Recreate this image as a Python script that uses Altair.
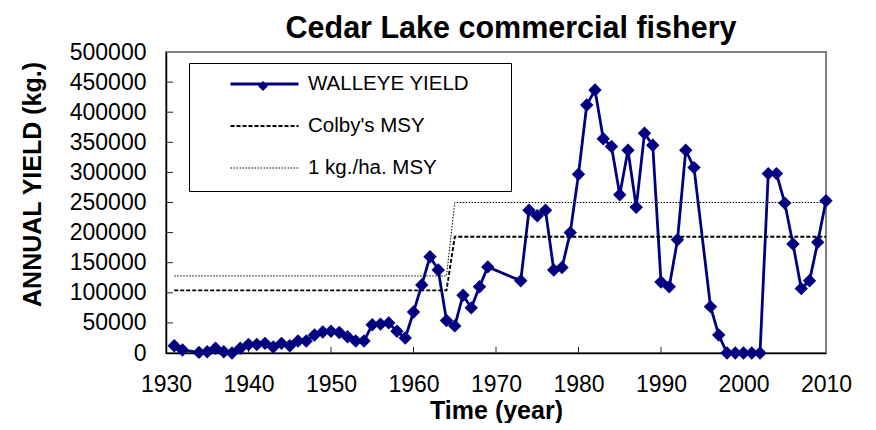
import altair as alt
import pandas as pd

# ---- data ----
years = [1931, 1932,
         1934, 1935, 1936, 1937, 1938, 1939,
         1940, 1941, 1942, 1943, 1944, 1945, 1946, 1947, 1948, 1949,
         1950, 1951, 1952, 1953, 1954, 1955, 1956, 1957, 1958, 1959,
         1960, 1961, 1962, 1963, 1964, 1965, 1966, 1967, 1968, 1969,
         1973, 1974, 1975, 1976, 1977, 1978, 1979,
         1980, 1981, 1982, 1983, 1984, 1985, 1986, 1987, 1988, 1989,
         1990, 1991, 1992, 1993, 1994,
         1996, 1997, 1998, 1999, 2000, 2001, 2002,
         2003, 2004, 2005, 2006, 2007, 2008, 2009, 2010]
walleye = [12000, 5000,
           1000, 2000, 8000, 2000, 0, 8000,
           14000, 14000, 16000, 10000, 16000, 12000, 20000, 20000, 30000, 35000,
           36000, 34000, 27000, 20000, 20000, 47000, 48000, 50000, 36000, 25000,
           68000, 113000, 160000, 138000, 54000, 45000, 96000, 75000, 110000, 143000,
           120000, 237000, 228000, 237000, 138000, 142000, 200000,
           297000, 412000, 437000, 356000, 343000, 263000, 337000, 242000, 365000, 345000,
           118000, 110000, 188000, 337000, 308000,
           77000, 30000, 0, 0, 0, 0, 0,
           298000, 298000, 249000, 181000, 107000, 120000, 184000, 253000]

msy_years = [1931, 1964, 1965, 2010]
colby_msy = [104000, 104000, 193000, 193000]
kgha_msy = [128000, 128000, 250000, 250000]

series_names = ["WALLEYE YIELD", "Colby's MSY", "1 kg./ha. MSY"]
x_ticks = [1930, 1940, 1950, 1960, 1970, 1980, 1990, 2000, 2010]
y_ticks = [0, 50000, 100000, 150000, 200000, 250000, 300000, 350000, 400000, 450000, 500000]

# ---- tables ----
rows = [{"year": yr, "value": v, "series": series_names[0]} for yr, v in zip(years, walleye)]
rows += [{"year": yr, "value": v, "series": series_names[1]} for yr, v in zip(msy_years, colby_msy)]
rows += [{"year": yr, "value": v, "series": series_names[2]} for yr, v in zip(msy_years, kgha_msy)]
df = pd.DataFrame(rows)
pts = pd.DataFrame({"year": years, "value": walleye, "mk": series_names[0]})
xt = pd.DataFrame({"year": x_ticks[1:-1]})
yt = pd.DataFrame({"value": y_ticks[1:-1]})

FONT = "Liberation Sans"
W, H = 660, 301

x_enc = alt.X("year:Q",
              scale=alt.Scale(domain=[1930, 2010], nice=False, zero=False),
              axis=alt.Axis(values=x_ticks, format="d", title="Time (year)",
                            ticks=False, labelPadding=20, labelFlush=False,
                            labelOverlap=False, grid=False,
                            titleY=57, titleBaseline="middle"))
y_enc = alt.Y("value:Q",
              scale=alt.Scale(domain=[0, 500000], nice=False),
              axis=alt.Axis(values=y_ticks, format="d", title="ANNUAL YIELD (kg.)",
                            ticks=False, labelPadding=20, labelOverlap=False,
                            labelFlush=False, grid=False,
                            titleX=-134, titleY=132, titleBaseline="middle",
                            titleAlign="center"))

legend_main = alt.Legend(orient="none", legendX=23, legendY=11,
                         title=".", titleOrient="right", titleOpacity=0,
                         titleFontSize=20, titlePadding=24,
                         padding=12, symbolOffset=28, labelOffset=8,
                         rowPadding=21, clipHeight=18, symbolSize=4624,
                         symbolType="stroke", labelFont=FONT, labelFontSize=20.5,
                         labelColor="black", labelLimit=400,
                         strokeColor="black", fillColor="white", zindex=1)

lines = alt.Chart(df).mark_line().encode(
    x=x_enc, y=y_enc,
    color=alt.Color("series:N", scale=alt.Scale(domain=series_names,
                                                range=["#000080", "#000000", "#000000"]),
                    legend=legend_main),
    strokeDash=alt.StrokeDash("series:N", scale=alt.Scale(domain=series_names,
                                                          range=[[1, 0], [4, 2], [1.5, 1.5]]),
                              legend=legend_main),
    strokeWidth=alt.StrokeWidth("series:N", scale=alt.Scale(domain=series_names,
                                                            range=[2.8, 1, 1.2]),
                                legend=legend_main),
)

points = alt.Chart(pts).mark_point(filled=True, size=180, color="#000080", opacity=1).encode(
    x=x_enc, y=y_enc,
    shape=alt.Shape("mk:N", scale=alt.Scale(domain=[series_names[0]], range=["diamond"]),
                    legend=alt.Legend(orient="none", legendX=92, legendY=29, title=None,
                                      padding=0, labelExpr="''", labelOffset=0,
                                      symbolSize=100, symbolType="diamond",
                                      symbolFillColor="#000080", symbolStrokeColor="#000080",
                                      symbolStrokeWidth=0, zindex=2)),
)

xticks = alt.Chart(xt).mark_rule(color="#222", strokeWidth=1).encode(
    x=x_enc, y=alt.value(H), y2=alt.value(H - 6))
yticks = alt.Chart(yt).mark_rule(color="#222", strokeWidth=1).encode(
    y=y_enc, x=alt.value(0), x2=alt.value(7))

chart = alt.layer(xticks, yticks, lines, points).properties(
    width=W, height=H,
    title=alt.Title("Cedar Lake commercial fishery", font=FONT, fontSize=30.5,
                    fontWeight="bold", color="black", anchor="middle",
                    frame="group", dx=15, offset=-3),
    autosize=alt.AutoSizeParams(type="none"),
    padding={"left": 158, "top": 44, "right": 40, "bottom": 70},
).configure_view(
    stroke="#808080", strokeWidth=2
).configure_axis(
    labelFont=FONT, labelFontSize=23, labelColor="black",
    titleFont=FONT, titleFontSize=25, titleFontWeight="bold", titleColor="black",
    domainColor="#000000", domainWidth=1.5,
).configure_legend(
    labelFont=FONT
)

chart.save("out.html", embed_options={"renderer": "svg", "actions": False})
